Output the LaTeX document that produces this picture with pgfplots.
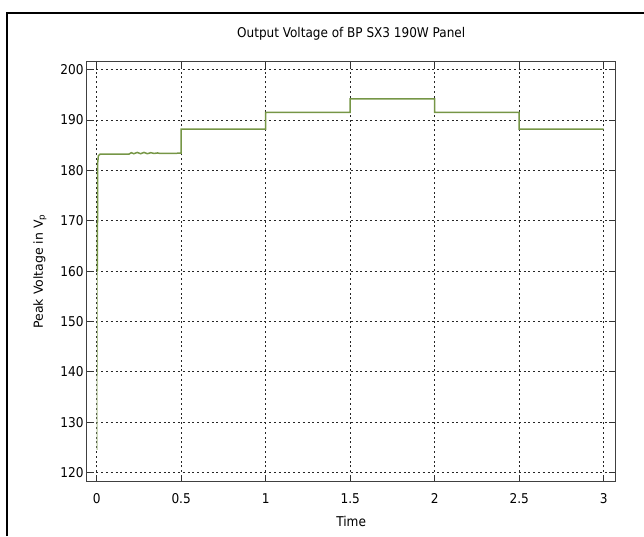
\documentclass[border=0pt]{standalone}
\usepackage{pgfplots}
\pgfplotsset{compat=1.18}
\usepackage{fontspec}
\setmainfont{DejaVu Sans Condensed}
\newfontfamily\widefont{DejaVu Sans}
\definecolor{lineg}{RGB}{118,150,70}
\begin{document}
\begin{tikzpicture}[x=1pt,y=1pt]
\useasboundingbox (0,0) rectangle (644,536);
\draw[line width=2pt] (6.7,0) -- (6.7,523.3) -- (645,523.3);
\begin{axis}[
  at={(86.7pt,54.3pt)}, anchor=south west,
  scale only axis, width=529pt, height=420.7pt,
  xmin=-0.059, xmax=3.071, ymin=118.2, ymax=201.7,
  xtick={0,0.5,1,1.5,2,2.5,3},
  xticklabels={0,0.5,1,1.5,2,2.5,3},
  ytick={120,130,140,150,160,170,180,190,200},
  /pgf/number format/assume math mode=true,
  tick align=inside,
  major tick length=7pt,
  tick style={black!80, line width=0.8pt},
  axis line style={black!75, line width=0.9pt},
  grid=major,
  major grid style={black!85, line width=0.8pt, dash pattern=on 2pt off 2.8pt},
  tick label style={font=\fontsize{13.5}{15}\selectfont},
  xticklabel style={anchor=center, yshift=-17pt},
  yticklabel style={anchor=east, inner sep=0pt, xshift=-3pt},
  title={Output Voltage of BP SX3 190W Panel},
  title style={at={(axis description cs:0.5,1.05)}, anchor=center, font=\fontsize{13.4}{15}\selectfont},
  xlabel={Time},
  xlabel style={at={(axis description cs:0.5,-0.095)}, anchor=center, font=\fontsize{13.5}{15}\selectfont},
  ylabel={\widefont Peak Voltage in V\textsubscript{p}},
  ylabel style={at={(axis description cs:-0.0883,0.5)}, anchor=center, rotate=0, font=\fontsize{12.5}{14}\selectfont},
]
\addplot[lineg!60, line width=1pt] coordinates {(0.003,124.5) (0.004,160)};
\addplot[lineg, line width=1.5pt] coordinates {
 (0.004,160) (0.006,181.5) (0.01,182.9) (0.02,183.2)
 (0.19,183.2) (0.205,183.5) (0.22,183.3) (0.24,183.55) (0.26,183.3) (0.28,183.55)
 (0.30,183.3) (0.32,183.5) (0.34,183.35) (0.36,183.45) (0.375,183.35) (0.5,183.4)
 (0.5,188.2) (1,188.2)
 (1,191.5) (1.5,191.5)
 (1.5,194.2) (2,194.2)
 (2,191.5) (2.5,191.5)
 (2.5,188.2) (3,188.2)
};
\end{axis}
\end{tikzpicture}
\end{document}
